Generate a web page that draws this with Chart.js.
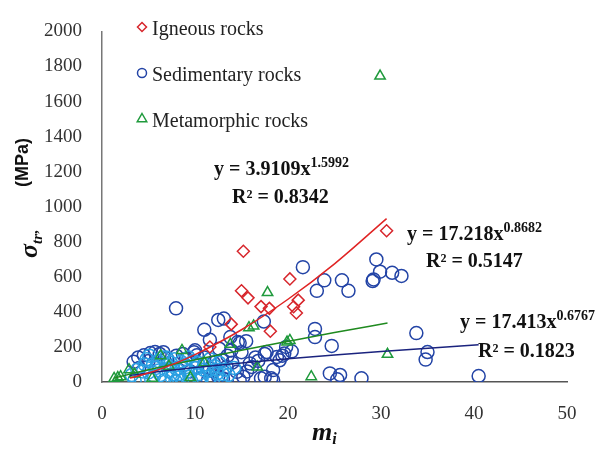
<!DOCTYPE html>
<html>
<head>
<meta charset="utf-8">
<script src="https://cdn.jsdelivr.net/npm/chart.js@4.4.1/dist/chart.umd.min.js"></script>
<style>
  html, body { margin: 0; padding: 0; background: #fff; }
  #wrap { width: 604px; height: 451px; position: relative; }
</style>
</head>
<body>
<div id="wrap"><canvas id="rocksChart" width="604" height="451"></canvas></div>
<script>
// tick labels
const xTicks = [0, 10, 20, 30, 40, 50];
const yTicks = [0, 200, 400, 600, 800, 1000, 1200, 1400, 1600, 1800, 2000];

// igneous rocks (mi, sigma_tr)
const igneousX = [11.6, 13.9, 15.0, 15.7, 15.2, 17.1, 18.0, 18.1, 20.2, 20.6, 20.9, 21.1, 30.6];
const igneousY = [200, 330, 520, 480, 746, 430, 420, 290, 588, 429, 394, 467, 863];

// sedimentary rocks, outer points
const sedX = [7.96, 11.0, 12.5, 13.1, 11.6, 17.4, 15.5, 14.8, 13.8, 17.7, 17.5, 19.6, 19.1, 19.4, 17.5, 18.4, 16.1, 15.2,
  21.6, 23.9, 23.1, 25.8, 26.5, 29.5, 29.1, 29.2, 29.9, 31.2, 32.2, 22.9, 22.9, 24.7, 33.8, 35.0, 34.8, 24.5, 25.3, 25.6,
  27.9, 40.5, 14.6, 18.8, 10.0, 13.4, 14.5, 14.8, 17.1, 18.2, 18.4, 15.9, 12.9, 12.5, 11.6, 3.4, 4.5, 5.7, 7.0, 10.2,
  4.0, 5.0, 6.2, 8.0, 9.0, 11.0, 12.0, 13.5, 14.0, 12.0, 13.0, 10.5, 9.5, 16.5, 15.0, 19.8, 20.4,
  3.9, 5.2, 6.6, 8.7, 9.9, 12.6, 13.9, 15.6, 16.8, 11.4];
const sedY = [420, 298, 354, 362, 241, 345, 233, 222, 256, 171, 160, 162, 124, 150, 30, 11, 86, 30,
  655, 580, 520, 580, 520, 699, 576, 585, 629, 623, 605, 303, 256, 206, 279, 171, 128, 49, 15, 40,
  21, 34, 228, 143, 181, 86, 58, 11, 21, 21, 68, 106, 124, 30, 77, 115, 152, 171, 134, 152,
  80, 120, 160, 150, 130, 140, 110, 150, 110, 60, 20, 20, 60, 140, 170, 200, 175,
  140, 165, 170, 160, 170, 190, 180, 60, 120, 10];

// sedimentary rocks, dense cluster (lighter blue)
const sedDenseX = [3.2, 3.8, 4.2, 4.6, 5.0, 5.3, 5.8, 6.0, 6.3, 6.7, 7.0, 7.2, 7.5, 7.8, 8.0, 8.3, 8.6, 8.9, 9.2, 9.4,
  9.8, 10.1, 10.4, 10.7, 11.0, 11.3, 11.7, 12.1, 12.4, 12.8, 13.2, 13.6, 6.5, 8.5, 4.8, 5.5, 9.6, 7.9, 11.9, 3.5,
  4.4, 5.6, 6.9, 7.4, 8.2, 9.0, 10.3, 10.9, 11.6, 12.6, 13.0, 14.2, 6.1, 7.7, 9.3, 5.1, 10.6, 12.3];
const sedDenseY = [40, 70, 20, 100, 55, 15, 80, 120, 40, 10, 95, 60, 25, 130, 75, 45, 10, 100, 60, 30,
  120, 80, 45, 15, 100, 60, 30, 90, 50, 15, 70, 40, 140, 115, 130, 100, 5, 5, 5, 10,
  60, 35, 140, 110, 25, 85, 110, 70, 130, 110, 45, 80, 65, 45, 140, 150, 25, 70];

// metamorphic rocks
const metaX = [1.3, 1.7, 2.0, 2.9, 3.5, 5.4, 6.3, 7.2, 8.6, 9.5, 11.0, 13.8, 15.8, 16.3, 16.7, 17.8, 19.9, 20.2, 22.5, 30.7, 29.9];
const metaY = [20, 25, 30, 70, 45, 22, 150, 90, 180, 25, 110, 215, 310, 320, 85, 510, 228, 237, 30, 158, 1745];

// power-law trendlines, values
const igneousFitX = [3, 5, 8, 10, 15, 20, 25, 30.6];
const igneousFitY = [23, 51, 109, 156, 298, 472, 674, 932];
const metaFitX = [1.3, 3, 5, 10, 15, 20, 25, 30.7];
const metaFitY = [22, 45, 70, 127, 181, 232, 282, 336];
const sedFitX = [3, 5, 10, 15, 20, 25, 30, 40.5];
const sedFitY = [37, 52, 83, 109, 132, 154, 174, 213];

const RED = "#d7262c";
const BLUE = "#2344a6";
const LIGHTBLUE = "#2a9fe2";
const GREEN = "#1f9a3c";

const pts = (xs, ys) => xs.map((x, i) => ({ x: x, y: ys[i] }));

const serif = "'Liberation Serif', 'Times New Roman', serif";

function drawRuns(ctx, runs, x, y) {
  // runs: [text, font, dy]
  let cx = x;
  runs.forEach(([t, font, dy]) => {
    ctx.font = font;
    ctx.fillText(t, cx, y + (dy || 0));
    cx += ctx.measureText(t).width;
  });
}

function marker(ctx, style, x, y, r, color) {
  ctx.save();
  ctx.strokeStyle = color;
  ctx.lineWidth = 1.5;
  ctx.beginPath();
  if (style === "circle") {
    ctx.arc(x, y, r, 0, Math.PI * 2);
  } else if (style === "rectRot") {
    ctx.moveTo(x - r, y);
    ctx.lineTo(x, y - r);
    ctx.lineTo(x + r, y);
    ctx.lineTo(x, y + r);
    ctx.closePath();
  } else {
    ctx.moveTo(x, y - r);
    ctx.lineTo(x + r * 0.866, y + r * 0.5);
    ctx.lineTo(x - r * 0.866, y + r * 0.5);
    ctx.closePath();
  }
  ctx.stroke();
  ctx.restore();
}

const overlay = {
  id: "overlay",
  afterDraw(chart) {
    const ctx = chart.ctx;
    ctx.save();
    ctx.textAlign = "left";
    ctx.textBaseline = "alphabetic";

    // legend
    const legend = [
      ["rectRot", RED, "Igneous rocks", 27],
      ["circle", BLUE, "Sedimentary rocks", 73],
      ["triangle", GREEN, "Metamorphic rocks", 119],
    ];
    legend.forEach(([st, col, label, y]) => {
      marker(ctx, st, 142, y, st === "triangle" ? 5.5 : 4.5, col);
      ctx.fillStyle = "#222";
      ctx.font = "20px " + serif;
      ctx.fillText(label, 152, y + 7.5);
    });

    // equations
    ctx.fillStyle = "#111";
    const big = "bold 20px " + serif;
    const sup = "bold 14px " + serif;
    drawRuns(ctx, [["y = 3.9109x", big], ["1.5992", sup, -8]], 214, 175);
    drawRuns(ctx, [["R\u00b2 = 0.8342", big]], 232, 203);
    drawRuns(ctx, [["y = 17.218x", big], ["0.8682", sup, -8]], 407, 240);
    drawRuns(ctx, [["R\u00b2 = 0.5147", big]], 426, 267);
    drawRuns(ctx, [["y = 17.413x", big], ["0.6767", sup, -8]], 460, 328);
    drawRuns(ctx, [["R\u00b2 = 0.1823", big]], 478, 357);

    // x axis title
    drawRuns(ctx, [["m", "bold italic 26px " + serif], ["i", "bold italic 16px " + serif, 4]], 312, 440);

    // y axis title, rotated
    ctx.translate(37, 258);
    ctx.rotate(-Math.PI / 2);
    drawRuns(ctx, [
      ["\u03c3", "bold italic 26px " + serif],
      ["tr", "bold italic 15px " + serif, 5],
      [",", "bold 15px " + serif, 0],
    ], 0, 0);
    ctx.font = "bold 18px 'Liberation Sans', Arial, sans-serif";
    ctx.fillText("(MPa)", 71, -9);
    ctx.restore();
  },
};

function renderChart() {
  const ctx = document.getElementById("rocksChart").getContext("2d");
  const tickFont = { family: serif, size: 19 };

  new Chart(ctx, {
    type: "scatter",
    data: {
      datasets: [
        {
          label: "Igneous fit",
          type: "line",
          data: pts(igneousFitX, igneousFitY),
          borderColor: "#e02424",
          borderWidth: 1.5,
          pointRadius: 0,
          cubicInterpolationMode: "monotone",
          order: 0,
        },
        {
          label: "Metamorphic fit",
          type: "line",
          data: pts(metaFitX, metaFitY),
          borderColor: "#1f8a1f",
          borderWidth: 1.5,
          pointRadius: 0,
          cubicInterpolationMode: "monotone",
          order: 0,
        },
        {
          label: "Sedimentary fit",
          type: "line",
          data: pts(sedFitX, sedFitY),
          borderColor: "#1a237e",
          borderWidth: 1.5,
          pointRadius: 0,
          cubicInterpolationMode: "monotone",
          order: 0,
        },
        {
          label: "Metamorphic rocks",
          data: pts(metaX, metaY),
          pointStyle: "triangle",
          pointRadius: 6,
          borderColor: GREEN,
          backgroundColor: "rgba(0,0,0,0)",
          borderWidth: 1.5,
          order: 1,
        },
        {
          label: "Igneous rocks",
          data: pts(igneousX, igneousY),
          pointStyle: "rectRot",
          pointRadius: 6,
          borderColor: RED,
          backgroundColor: "rgba(0,0,0,0)",
          borderWidth: 1.5,
          order: 2,
        },
        {
          label: "Sedimentary dense",
          data: pts(sedDenseX, sedDenseY),
          pointStyle: "circle",
          pointRadius: 6.5,
          borderColor: LIGHTBLUE,
          backgroundColor: "rgba(0,0,0,0)",
          borderWidth: 1.5,
          order: 3,
        },
        {
          label: "Sedimentary rocks",
          data: pts(sedX, sedY),
          pointStyle: "circle",
          pointRadius: 6.5,
          borderColor: BLUE,
          backgroundColor: "rgba(0,0,0,0)",
          borderWidth: 1.5,
          order: 4,
        },
      ],
    },
    options: {
      responsive: false,
      animation: false,
      layout: { padding: { top: 28, right: 37, left: 0, bottom: 0 } },
      plugins: {
        legend: { display: false },
        tooltip: { enabled: false },
      },
      scales: {
        x: {
          type: "linear",
          min: 0,
          max: 50,
          afterBuildTicks: (scale) => { scale.ticks = xTicks.map((v) => ({ value: v })); },
          afterFit: (scale) => { scale.height = 69; },
          grid: { display: false, drawTicks: false },
          border: { display: true, color: "#555", width: 1.5 },
          ticks: { font: tickFont, color: "#333", padding: 21, maxRotation: 0, callback: (v) => String(v) },
        },
        y: {
          type: "linear",
          min: 0,
          max: 2000,
          afterBuildTicks: (scale) => { scale.ticks = yTicks.map((v) => ({ value: v })); },
          afterFit: (scale) => { scale.width = 102; },
          grid: { display: false, drawTicks: false },
          border: { display: true, color: "#777", width: 1.5 },
          ticks: { font: tickFont, color: "#333", padding: 20, callback: (v) => String(v) },
        },
      },
    },
    plugins: [overlay],
  });
}

document.addEventListener("DOMContentLoaded", renderChart);
</script>
</body>
</html>
